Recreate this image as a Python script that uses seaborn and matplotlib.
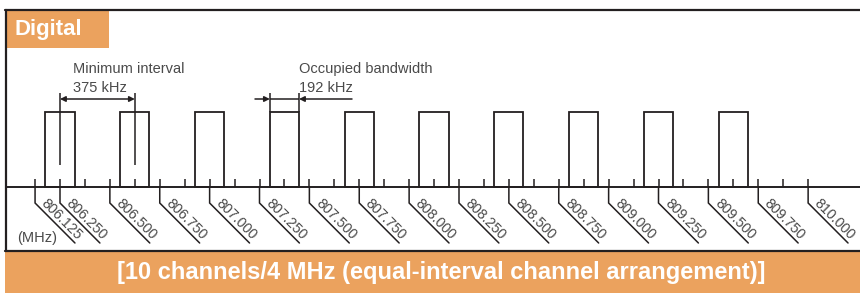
import matplotlib
matplotlib.use("Agg")  # no display
import matplotlib.pyplot as plt
from matplotlib.lines import Line2D
from matplotlib.patches import Rectangle
import numpy as np
import pandas as pd
import seaborn as sns

# --- data -------------------------------------------------------------
channel_mhz = [806.250, 806.625, 807.000, 807.375, 807.750,
               808.125, 808.500, 808.875, 809.250, 809.625]
channel_level = [1, 1, 1, 1, 1, 1, 1, 1, 1, 1]

label_mhz = [806.125, 806.250, 806.500, 806.750, 807.000, 807.250,
             807.500, 807.750, 808.000, 808.250, 808.500, 808.750,
             809.000, 809.250, 809.500, 809.750, 810.000]
tick_mhz = np.arange(806.125, 810.0 + 1e-9, 0.125)

interval_text = ["Minimum interval", "375 kHz"]
bandwidth_text = ["Occupied bandwidth", "192 kHz"]
header_text = "Digital"
footer_text = "[10 channels/4 MHz (equal-interval channel arrangement)]"
unit_text = "(MHz)"

# --- style / layout ---------------------------------------------------
ORANGE = "#EBA25E"
INK = "#231F20"
GREY = "#4A4A4A"

W, H = 860, 293
PX_PER_MHZ = 199.5
X0_PX, X0_MHZ = 60, 806.25
AXIS_PX, PX_PER_UNIT = 187, 75.0
BAR_WIDTH = 0.39  # relative to channel spacing


def mhz(px):
    return X0_MHZ + (px - X0_PX) / PX_PER_MHZ


def lvl(py):
    return (AXIS_PX - py) / PX_PER_UNIT


def fxy(px, py):
    return px / W, 1 - py / H


sns.set_theme(style="white")
plt.rcParams["font.family"] = ["Liberation Sans", "DejaVu Sans"]

fig = plt.figure(figsize=(W / 100, H / 100), dpi=100)
ax = fig.add_axes([0, 0, 1, 1])

df = pd.DataFrame({"mhz": channel_mhz, "level": channel_level})
sns.barplot(data=df, x="mhz", y="level", native_scale=True, width=BAR_WIDTH,
            fill=False, color=INK, linewidth=1.3, errorbar=None, ax=ax)

ax.set_xlim(mhz(0), mhz(W))
ax.set_ylim(lvl(H), lvl(0))
ax.set_axis_off()

# frequency axis
ax.hlines(0, mhz(5), mhz(W), color=INK, lw=1.4)
ax.vlines(tick_mhz, 0, lvl(179), color=INK, lw=1.1)
for v in label_mhz:
    ax.plot([v, v, v + 0.2], [0, lvl(203), lvl(243)], color=INK, lw=1.1,
            solid_joinstyle="miter")
    ax.annotate(f"{v:.3f}", (v, lvl(203)), xytext=(4.0, -0.8),
                textcoords="offset points", rotation=-45,
                rotation_mode="anchor", ha="left", va="baseline",
                fontsize=10.3, color=GREY)
ax.text(mhz(17), lvl(242), unit_text, fontsize=10.5, color=GREY,
        ha="left", va="baseline")

# minimum interval marker
c0, c1 = channel_mhz[0], channel_mhz[1]
ax.vlines([c0, c1], lvl(165), lvl(93), color=INK, lw=1.1)
ax.annotate("", xy=(c1, lvl(99)), xytext=(c0, lvl(99)),
            arrowprops=dict(arrowstyle="<|-|>", color=INK, lw=1.1,
                            shrinkA=0, shrinkB=0, mutation_scale=8))
ax.text(mhz(73), lvl(73), interval_text[0], fontsize=10.5, color=GREY,
        ha="left", va="baseline")
ax.text(mhz(73), lvl(92), interval_text[1], fontsize=10.5, color=GREY,
        ha="left", va="baseline")

# occupied bandwidth marker
half = BAR_WIDTH * (channel_mhz[1] - channel_mhz[0]) / 2
e0, e1 = channel_mhz[3] - half, channel_mhz[3] + half
ax.vlines([e0, e1], 1, lvl(93), color=INK, lw=1.1)
ax.hlines(lvl(99), e0, e1, color=INK, lw=1.1)
ax.annotate("", xy=(e0, lvl(99)), xytext=(mhz(255), lvl(99)),
            arrowprops=dict(arrowstyle="-|>", color=INK, lw=1.1,
                            shrinkA=0, shrinkB=0, mutation_scale=8))
ax.annotate("", xy=(e1, lvl(99)), xytext=(mhz(352), lvl(99)),
            arrowprops=dict(arrowstyle="-|>", color=INK, lw=1.1,
                            shrinkA=0, shrinkB=0, mutation_scale=8))
ax.text(mhz(299), lvl(73), bandwidth_text[0], fontsize=10.5, color=GREY,
        ha="left", va="baseline")
ax.text(mhz(299), lvl(92), bandwidth_text[1], fontsize=10.5, color=GREY,
        ha="left", va="baseline")

# frame
for (xa, ya), (xb, yb) in [((5, 10), (W, 10)), ((6, 10), (6, 251)),
                           ((5, 251), (W, 251))]:
    p, q = fxy(xa, ya), fxy(xb, yb)
    fig.add_artist(Line2D([p[0], q[0]], [p[1], q[1]], color=INK, lw=1.6,
                          transform=fig.transFigure))

# header box
fig.add_artist(Rectangle(fxy(7, 48), 102 / W, 37 / H, color=ORANGE, lw=0,
                         transform=fig.transFigure))
fig.text(*fxy(15, 30), header_text, color="white", fontsize=16,
         fontweight="bold", ha="left", va="center")

# footer band
fig.add_artist(Rectangle(fxy(5, H), (W - 5) / W, (H - 252) / H, color=ORANGE,
                         lw=0, transform=fig.transFigure))
fig.text(*fxy(441, 273), footer_text, color="white", fontsize=17,
         fontweight="bold", ha="center", va="center",
         family=["Liberation Sans Narrow", "Liberation Sans"])

fig.savefig("out.png", dpi=100)
plt.close(fig)
